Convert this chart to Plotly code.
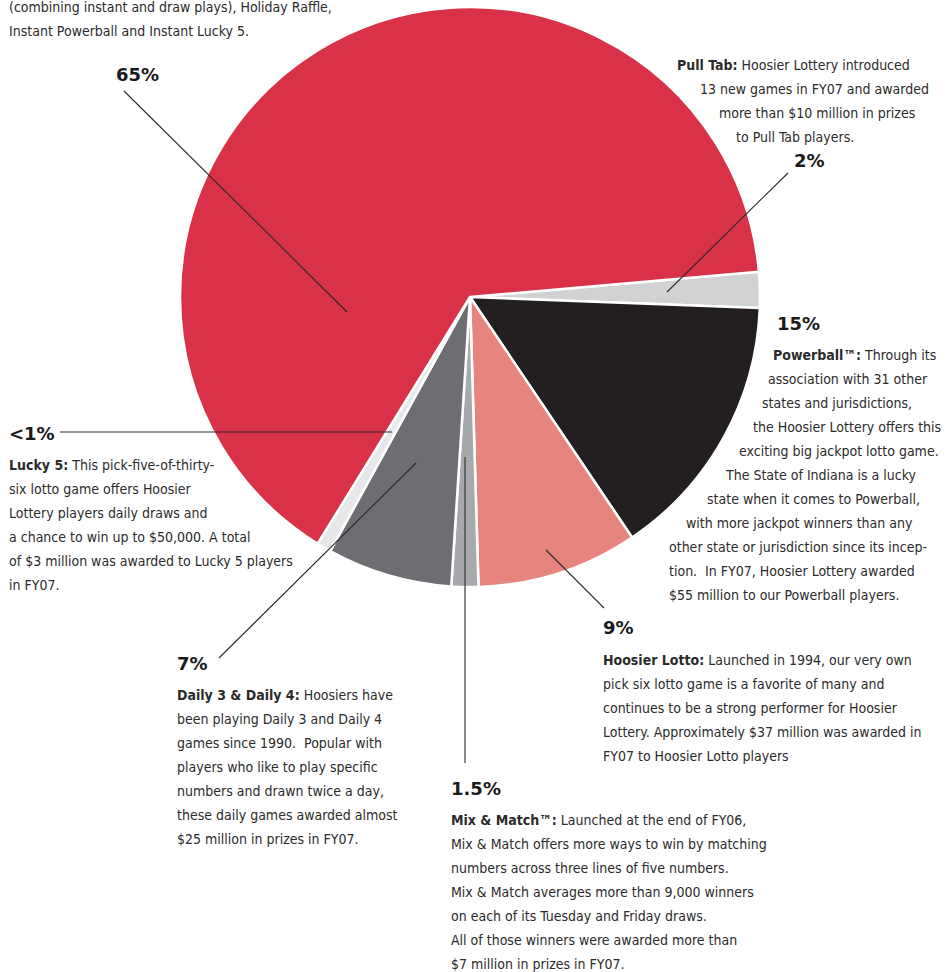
import plotly.graph_objects as go

W, H = 947, 972

# ---- data ----
categories = ["Pull Tab", "Powerball", "Hoosier Lotto", "Mix & Match",
              "Daily 3 & Daily 4", "Lucky 5", "Instant"]
shares = [2, 15, 9, 1.5, 7, 0.8, 65]
pct_labels = ["2%", "15%", "9%", "1.5%", "7%", "<1%", "65%"]
colors = ["#D1D2D4", "#231F20", "#E5857E", "#A7A9AC", "#6D6E71", "#E6E7E8", "#D83148"]

BODY_FONT = "DejaVu Sans Condensed, Liberation Sans Narrow, Liberation Sans, sans-serif"
BODY_SIZE = 14
PCT_FONT = "DejaVu Sans, Liberation Sans, sans-serif"
TXT = "#2b2b2b"


def px(x):
    return x / W


def py(y):
    return 1 - y / H


fig = go.Figure(go.Pie(
    labels=categories, values=shares, sort=False, direction="clockwise",
    rotation=85, textinfo="none", hoverinfo="label+percent",
    marker=dict(colors=colors, line=dict(color="white", width=2.5)),
    domain=dict(x=[px(180), px(760)], y=[py(587), py(7)]),
    showlegend=False,
))

# ---- text blocks: (lines, left x per line (or single), first line y) ----
blocks = [
    (["(combining instant and draw plays), Holiday Raffle,",
      "Instant Powerball and Instant Lucky 5."], [8], 7),
    (["<b>Pull Tab:</b> Hoosier Lottery introduced",
      "13 new games in FY07 and awarded",
      "more than $10 million in prizes",
      "to Pull Tab players."], [676, 699, 718, 735], 65),
    (["<b>Powerball™:</b> Through its",
      "association with 31 other",
      "states and jurisdictions,",
      "the Hoosier Lottery offers this",
      "exciting big jackpot lotto game.",
      "The State of Indiana is a lucky",
      "state when it comes to Powerball,",
      "with more jackpot winners than any",
      "other state or jurisdiction since its incep-",
      "tion.  In FY07, Hoosier Lottery awarded",
      "$55 million to our Powerball players."],
     [772, 767, 761, 752, 738, 724, 706, 685, 668, 668, 668], 355),
    (["<b>Lucky 5:</b> This pick-five-of-thirty-",
      "six lotto game offers Hoosier",
      "Lottery players daily draws and",
      "a chance to win up to $50,000. A total",
      "of $3 million was awarded to Lucky 5 players",
      "in FY07."], [8], 465),
    (["<b>Daily 3 & Daily 4:</b> Hoosiers have",
      "been playing Daily 3 and Daily 4",
      "games since 1990.  Popular with",
      "players who like to play specific",
      "numbers and drawn twice a day,",
      "these daily games awarded almost",
      "$25 million in prizes in FY07."], [176], 695),
    (["<b>Mix & Match™:</b> Launched at the end of FY06,",
      "Mix & Match offers more ways to win by matching",
      "numbers across three lines of five numbers.",
      "Mix & Match averages more than 9,000 winners",
      "on each of its Tuesday and Friday draws.",
      "All of those winners were awarded more than",
      "$7 million in prizes in FY07."], [450], 820),
    (["<b>Hoosier Lotto:</b> Launched in 1994, our very own",
      "pick six lotto game is a favorite of many and",
      "continues to be a strong performer for Hoosier",
      "Lottery. Approximately $37 million was awarded in",
      "FY07 to Hoosier Lotto players"], [602], 660),
]
LINE_H = 24

annotations = []
for lines, xs, y0 in blocks:
    for i, line in enumerate(lines):
        x = xs[i] if len(xs) > 1 else xs[0]
        annotations.append(dict(
            x=px(x), y=py(y0 + i * LINE_H), xref="paper", yref="paper",
            xanchor="left", yanchor="middle", showarrow=False, text=line,
            borderpad=0,
            font=dict(family=BODY_FONT, size=BODY_SIZE, color=TXT)))

# percent label positions (left x, center y) in same order as categories
pct_pos = [(793, 160), (776, 323), (602, 627), (450, 788), (176, 663), (8, 433), (115, 74)]
for lab, (x, y) in zip(pct_labels, pct_pos):
    annotations.append(dict(
        x=px(x), y=py(y), xref="paper", yref="paper", xanchor="left", yanchor="middle",
        showarrow=False, text=f"<b>{lab}</b>", borderpad=0,
        font=dict(family=PCT_FONT, size=18, color="#1a1a1a")))

# leader lines (outer end, inner end) in same order as categories
leaders = [((788, 173), (667, 292)), None, ((604, 608), (546, 550)),
           ((465, 763), (465, 457)), ((219, 658), (416, 463)), ((60, 432), (392, 432)),
           ((124, 91), (347, 312))]
shapes = []
for seg in leaders:
    if seg is None:
        continue
    (x0, y0), (x1, y1) = seg
    shapes.append(dict(type="line", xref="paper", yref="paper",
                       x0=px(x0), y0=py(y0), x1=px(x1), y1=py(y1),
                       line=dict(color="#2a2a2a", width=1.1)))

fig.update_layout(
    width=W, height=H, margin=dict(l=0, r=0, t=0, b=0),
    paper_bgcolor="white", plot_bgcolor="white",
    annotations=annotations, shapes=shapes,
)

fig.write_html("out.html", config={"displayModeBar": False},
               post_script="document.body.style.margin='0';document.body.style.overflow='hidden';")
